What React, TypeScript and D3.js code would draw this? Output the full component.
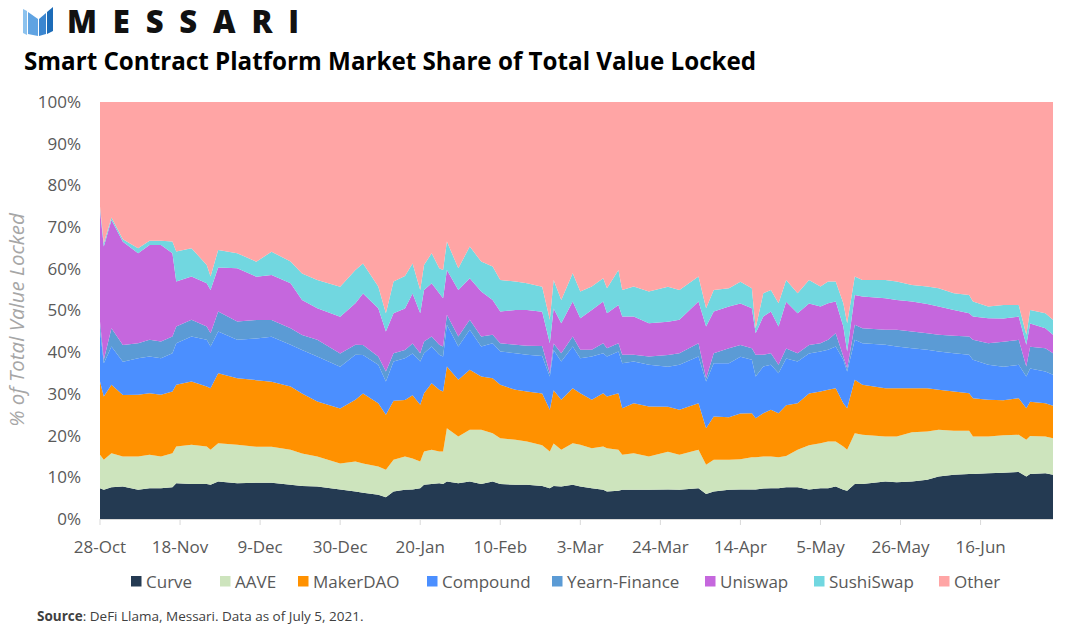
import React from "react";
import * as d3 from "d3";

// ---- data (share of total value locked, %) ----
const startDate = "2020-10-28";
const dayOffsets = [0, 1, 3, 6, 10, 13, 16, 19, 20, 24, 28, 29, 31, 36, 41, 45, 50, 53, 57, 63, 67, 69, 73, 75, 77, 80, 82, 84, 85, 87, 89, 90, 91, 94, 97, 100, 103, 105, 109, 112, 116, 118, 119, 121, 124, 126, 129, 132, 133, 136, 137, 140, 144, 149, 152, 157, 159, 161, 165, 168, 171, 172, 174, 176, 178, 180, 183, 186, 189, 191, 193, 195, 196, 198, 200, 206, 209, 213, 217, 220, 224, 228, 229, 233, 237, 241, 243, 244, 248, 250];
const curve = [7.4, 7.0, 7.6, 7.8, 7.0, 7.4, 7.4, 7.6, 8.6, 8.4, 8.4, 8.2, 9.0, 8.6, 8.7, 8.7, 8.2, 7.9, 7.8, 7.1, 6.6, 6.3, 5.8, 5.2, 6.6, 7.0, 7.1, 7.4, 8.2, 8.4, 8.6, 8.4, 9.0, 8.6, 9.0, 8.4, 9.0, 8.4, 8.2, 8.2, 7.9, 7.4, 7.9, 7.8, 8.2, 7.8, 7.4, 7.0, 6.6, 6.8, 7.0, 7.0, 7.0, 7.1, 7.0, 7.4, 6.0, 6.6, 7.0, 7.1, 7.1, 7.1, 7.3, 7.4, 7.4, 7.6, 7.6, 7.1, 7.4, 7.4, 7.8, 7.0, 6.8, 8.4, 8.4, 9.0, 8.8, 9.0, 9.4, 10.2, 10.6, 10.8, 10.8, 11.0, 11.1, 11.3, 10.2, 10.8, 11.0, 10.6];
const aave = [8.0, 7.2, 8.2, 7.2, 8.0, 8.0, 7.6, 8.2, 8.8, 9.4, 9.0, 8.4, 9.2, 9.2, 8.6, 8.6, 8.4, 7.8, 7.2, 6.2, 7.2, 7.0, 6.8, 6.6, 7.6, 8.0, 7.4, 6.4, 8.0, 8.2, 7.6, 7.8, 12.8, 11.2, 12.4, 13.0, 11.6, 11.0, 10.8, 10.4, 9.8, 8.8, 10.2, 8.8, 10.0, 10.0, 9.6, 10.4, 10.4, 9.8, 8.4, 8.8, 8.0, 9.0, 8.4, 9.2, 7.0, 7.6, 7.2, 7.2, 7.7, 7.7, 7.7, 7.6, 7.4, 7.5, 9.0, 10.6, 10.8, 11.2, 10.8, 10.4, 9.8, 12.2, 11.8, 10.8, 11.0, 11.8, 11.6, 11.2, 10.6, 10.4, 9.0, 8.8, 9.0, 8.9, 8.8, 9.1, 8.8, 8.8];
const makerDao = [17.6, 15.2, 16.4, 14.8, 14.8, 14.8, 14.8, 14.8, 14.8, 15.2, 14.4, 14.8, 16.8, 16.0, 16.0, 15.6, 15.2, 14.4, 13.2, 13.2, 14.8, 16.8, 15.2, 13.2, 14.2, 13.6, 15.2, 13.6, 14.0, 16.0, 14.8, 14.4, 14.8, 13.6, 14.4, 12.8, 13.2, 12.8, 12.0, 12.0, 12.4, 10.0, 12.8, 12.0, 13.2, 12.4, 11.6, 12.8, 12.4, 13.6, 11.2, 12.0, 12.0, 10.8, 10.8, 11.2, 8.8, 10.4, 10.2, 11.0, 10.6, 9.4, 10.4, 11.2, 10.6, 12.2, 11.2, 12.4, 12.4, 12.4, 12.8, 10.4, 10.0, 12.8, 12.0, 11.6, 11.6, 10.6, 10.4, 9.6, 9.4, 9.0, 9.2, 8.8, 8.4, 8.8, 7.6, 8.2, 8.0, 7.8];
const compound = [12.4, 8.0, 9.2, 8.0, 8.8, 8.8, 8.8, 9.2, 10.0, 10.8, 11.2, 10.0, 10.0, 9.2, 10.0, 10.8, 10.0, 10.4, 10.8, 10.0, 10.8, 9.2, 9.2, 8.0, 9.4, 10.0, 10.0, 10.4, 9.6, 8.8, 8.4, 8.4, 10.0, 8.0, 9.6, 7.2, 8.4, 8.0, 8.8, 8.8, 9.0, 8.0, 9.6, 9.2, 10.0, 8.4, 10.4, 9.6, 9.6, 10.0, 10.8, 10.0, 10.0, 9.6, 10.8, 11.2, 11.2, 12.8, 13.0, 13.6, 12.8, 10.0, 11.2, 10.8, 9.6, 11.2, 10.0, 9.6, 9.6, 9.6, 10.0, 10.4, 8.8, 9.6, 10.0, 10.4, 10.0, 9.6, 9.2, 9.2, 9.2, 9.2, 9.2, 8.4, 8.0, 8.0, 7.6, 8.0, 7.6, 7.4];
const yearnFinance = [2.0, 0.8, 4.4, 4.0, 3.6, 4.0, 4.0, 4.0, 4.0, 4.0, 3.2, 3.2, 4.8, 4.4, 4.4, 4.0, 4.0, 3.6, 4.0, 3.2, 2.4, 2.4, 2.0, 2.4, 2.0, 2.0, 2.4, 2.0, 2.8, 2.4, 2.4, 2.4, 2.4, 2.4, 2.4, 2.4, 2.0, 2.0, 2.0, 2.2, 2.4, 0.8, 1.6, 2.0, 2.4, 2.0, 1.6, 2.4, 2.0, 2.0, 2.0, 1.6, 2.0, 2.8, 2.8, 3.2, 0.8, 2.4, 3.6, 2.8, 2.8, 5.2, 2.8, 2.8, 2.0, 2.4, 2.0, 2.0, 2.0, 2.4, 3.2, 0.8, 0.8, 3.6, 3.6, 3.6, 4.0, 4.0, 4.0, 4.0, 4.2, 4.4, 4.8, 5.2, 6.0, 6.0, 2.4, 5.2, 5.6, 5.2];
const uniswap = [26.8, 27.2, 26.0, 24.8, 21.6, 22.8, 23.2, 20.0, 10.8, 10.4, 10.4, 10.4, 10.6, 12.8, 10.4, 10.8, 10.8, 8.4, 7.6, 8.8, 10.0, 12.4, 11.6, 9.6, 9.6, 10.0, 12.0, 9.6, 12.4, 12.8, 12.4, 11.6, 10.8, 11.2, 10.0, 10.8, 8.4, 7.6, 8.4, 8.6, 8.2, 7.2, 8.4, 7.2, 8.4, 7.6, 9.6, 10.0, 8.4, 9.2, 9.2, 9.2, 8.0, 8.0, 8.0, 10.0, 12.4, 10.0, 10.0, 10.0, 9.6, 5.2, 9.2, 10.0, 9.2, 11.2, 9.6, 10.0, 8.8, 8.8, 7.6, 7.2, 4.0, 7.2, 7.6, 7.6, 7.2, 7.2, 7.0, 6.8, 6.2, 5.6, 5.6, 6.0, 5.6, 5.6, 5.2, 5.6, 4.8, 4.4];
const sushiSwap = [0.8, 0.8, 0.6, 0.6, 1.2, 1.0, 1.0, 2.8, 7.2, 6.8, 4.4, 3.2, 4.2, 3.6, 3.6, 5.6, 5.2, 6.4, 6.8, 7.2, 8.0, 7.2, 5.2, 4.4, 7.6, 7.8, 7.2, 5.6, 6.0, 7.2, 6.0, 6.8, 6.8, 5.2, 7.6, 7.2, 8.0, 7.6, 6.8, 6.4, 6.0, 5.6, 6.8, 5.6, 6.8, 6.4, 5.6, 5.6, 6.0, 8.4, 6.4, 7.2, 7.6, 8.4, 7.2, 6.0, 4.4, 5.2, 4.4, 5.2, 4.8, 1.2, 5.6, 5.2, 5.6, 5.2, 4.8, 5.6, 4.8, 5.2, 4.8, 5.6, 6.8, 4.4, 4.0, 4.4, 4.4, 4.0, 4.2, 4.4, 4.0, 4.4, 3.6, 2.8, 3.2, 2.8, 2.4, 3.2, 3.6, 3.6];
const other = [25.1, 33.9, 27.7, 33.0, 35.1, 33.3, 33.3, 33.5, 35.9, 35.1, 39.1, 41.9, 35.5, 36.3, 38.3, 35.9, 38.3, 41.1, 42.7, 44.3, 40.3, 38.7, 44.3, 50.7, 43.1, 41.8, 38.7, 45.1, 39.1, 36.3, 39.9, 40.3, 33.5, 39.9, 34.7, 38.3, 39.5, 42.7, 43.1, 43.5, 44.3, 52.3, 42.7, 47.5, 41.1, 45.5, 44.3, 42.3, 44.7, 40.3, 45.1, 44.3, 45.5, 44.3, 45.1, 41.9, 49.5, 45.1, 44.7, 43.1, 44.7, 54.3, 45.9, 45.1, 48.3, 42.7, 45.9, 42.7, 44.3, 43.1, 43.1, 48.3, 53.1, 41.9, 42.7, 42.7, 43.1, 43.9, 44.3, 44.7, 45.9, 46.3, 47.9, 49.1, 48.7, 48.7, 55.9, 49.9, 50.7, 52.3];

const seriesNames = ["Curve", "AAVE", "MakerDAO", "Compound", "Yearn-Finance", "Uniswap", "SushiSwap", "Other"];
const seriesValues = [curve, aave, makerDao, compound, yearnFinance, uniswap, sushiSwap, other];
const seriesColors = ["#243a52", "#cde4bd", "#ff9100", "#4b8fff", "#5b9bd5", "#c567dd", "#71d7e0", "#ffa5a5"];
const xTickDayOffsets = [0, 21, 42, 63, 84, 105, 126, 147, 168, 189, 210, 231];
const yTickValues = [0, 0.1, 0.2, 0.3, 0.4, 0.5, 0.6, 0.7, 0.8, 0.9, 1];

const FONT = "'Open Sans', 'DejaVu Sans', sans-serif";

export default function App() {
  const W = 1080, H = 640;
  const left = 100, right = 1053, top = 102, bottom = 519;
  const start = d3.utcParse("%Y-%m-%d")(startDate) as Date;
  const dates = dayOffsets.map((d) => d3.utcDay.offset(start, d));

  const rows = dates.map((date, i) => {
    const r: any = { date };
    seriesNames.forEach((k, j) => (r[k] = seriesValues[j][i]));
    return r;
  });

  const stack = d3.stack<any>().keys(seriesNames).offset(d3.stackOffsetExpand);
  const layers = stack(rows);

  const x = d3.scaleUtc().domain([dates[0], dates[dates.length - 1]]).range([left, right]);
  const y = d3.scaleLinear().domain([0, 1]).range([bottom, top]);
  const area = d3
    .area<any>()
    .x((d) => x(d.data.date))
    .y0((d) => y(d[0]))
    .y1((d) => y(d[1]));

  const xFmt = d3.utcFormat("%-d-%b");
  const yFmt = d3.format(".0%");
  const xTicks = xTickDayOffsets.map((d) => d3.utcDay.offset(start, d));

  const legendSquareX = [131, 220, 298, 427, 552, 705, 814, 939];

  return (
    <svg
      width={W}
      height={H}
      style={{ position: "absolute", left: 0, top: 0, background: "#fff" }}
      fontFamily={FONT}
    >
      <rect x={0} y={0} width={W} height={H} fill="#fff" />
      {/* Logo */}
      <g>
        <polygon points="23,9 27,11 27,35 23,33" fill="#8cc2ee" />
        <polygon points="28,12 38,19 38,36 28,34" fill="#5fa3e2" />
        <polygon points="39,19 46,13 46,34 39,36" fill="#3b86d0" />
        <polygon points="47,12 53,7 53,31 47,34" fill="#1d6cb8" />
      </g>
      <text x={67} y={33} fontSize={31} fontWeight={800} fill="#111" textLength={232} lengthAdjust="spacing">
        MESSARI
      </text>
      <text x={24} y={70} fontSize={24.2} fontWeight={700} fill="#000">
        Smart Contract Platform Market Share of Total Value Locked
      </text>

      {/* areas */}
      <g>
        {layers.map((layer, i) => (
          <path key={layer.key} d={area(layer) || ""} fill={seriesColors[i]} />
        ))}
      </g>

      {/* y axis labels */}
      <g fontSize={17} fill="#595959">
        {yTickValues.map((v) => (
          <text key={v} x={81} y={y(v)} dy="0.35em" textAnchor="end">
            {yFmt(v)}
          </text>
        ))}
      </g>
      <text
        transform={`translate(24, 320) rotate(-90)`}
        textAnchor="middle"
        fontSize={20.5}
        fontStyle="italic"
        fill="#a6a6a6"
      >
        % of Total Value Locked
      </text>

      {/* x axis */}
      <line x1={left} x2={right} y1={bottom + 0.5} y2={bottom + 0.5} stroke="#d9d9d9" strokeWidth={1} />
      <g fontSize={17} fill="#595959">
        {xTicks.map((t) => (
          <g key={t.getTime()}>
            <line x1={x(t)} x2={x(t)} y1={bottom} y2={bottom + 6} stroke="#d9d9d9" />
            <text x={x(t)} y={553} textAnchor="middle">
              {xFmt(t)}
            </text>
          </g>
        ))}
      </g>

      {/* legend */}
      <g fontSize={17} fill="#595959">
        {seriesNames.map((name, i) => (
          <g key={name}>
            <rect x={legendSquareX[i]} y={576} width={10.5} height={10.5} fill={seriesColors[i]} />
            <text x={legendSquareX[i] + 15} y={587.5}>
              {name}
            </text>
          </g>
        ))}
      </g>

      {/* source */}
      <text x={37} y={621} fontSize={13.5} fill="#404040">
        <tspan fontWeight={700}>Source</tspan>
        <tspan>: DeFi Llama, Messari. Data as of July 5, 2021.</tspan>
      </text>
    </svg>
  );
}
